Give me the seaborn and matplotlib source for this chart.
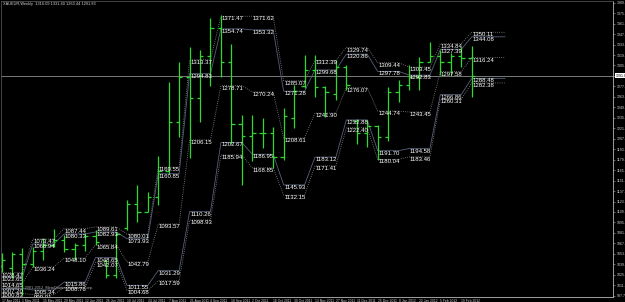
import numpy as np
import pandas as pd
import matplotlib
matplotlib.use("Agg")
import matplotlib.pyplot as plt
import seaborn as sns

# ---------------- data ----------------
week_dates = pd.date_range("2011-04-17", periods=46, freq="7D")
opens  = [1038, 1035, 1053, 1040, 1057, 1066, 1072, 1060, 1065, 1077, 1044, 1026, 1088, 1120, 1110, 1130,
          1165, 1230, 1290, 1262, 1318, 1356, 1311, 1228, 1212, 1215, 1215, 1183, 1236, 1278, 1300, 1277,
          1268, 1303, 1232, 1215, 1225, 1210, 1270, 1280, 1290, 1310, 1318, 1310, 1318, 1316.09]
highs  = [1055, 1056, 1062, 1063, 1075, 1087, 1079, 1068, 1082, 1086, 1046, 1083, 1126, 1146, 1137, 1185,
          1283, 1311, 1330, 1326, 1369, 1373, 1335, 1239, 1239, 1235, 1223, 1249, 1279, 1320, 1320, 1278,
          1313, 1306, 1234, 1233, 1226, 1277, 1286, 1306, 1317, 1337, 1326, 1322, 1330, 1331.40]
lows   = [1029, 1022, 999, 1036, 1045, 1063, 1056, 1046, 1058, 1066, 1022, 1022, 1086, 1096, 1109, 1119,
          1160, 1210, 1182, 1230, 1278, 1290, 1200, 1146, 1178, 1195, 1168, 1179, 1222, 1276, 1263, 1237,
          1259, 1273, 1200, 1196, 1179, 1205, 1257, 1273, 1273, 1310, 1293, 1293, 1304, 1263.44]
closes = [1046, 1053, 1040, 1057, 1066, 1072, 1060, 1065, 1077, 1070, 1026, 1080, 1120, 1110, 1130, 1165,
          1230, 1290, 1262, 1318, 1356, 1311, 1228, 1212, 1215, 1215, 1183, 1238, 1272, 1300, 1277, 1270,
          1303, 1280, 1215, 1225, 1210, 1270, 1280, 1290, 1310, 1318, 1310, 1318, 1316, 1291.83]

level_bars   = [0, 3, 6, 9, 12, 15, 18, 21, 24, 27, 30, 33, 36, 39, 42, 45]
upper_outer  = [1028.47, 1073.47, 1087.44, 1089.61, 1080.01, 1169.55, 1313.37, 1371.47, 1371.62, 1285.07,
                1312.39, 1329.74, 1309.44, 1303.45, 1334.84, 1350.11]
upper_inner  = [1022.65, 1066.94, 1080.33, 1082.93, 1073.93, 1160.85, 1294.83, 1354.74, 1353.32, 1271.28,
                1299.68, 1320.86, 1297.78, 1292.83, 1327.39, 1344.08]
middle_level = [1014.65, 1036.24, 1048.10, 1065.84, 1042.79, 1093.57, 1206.15, 1278.71, 1270.24, 1208.61,
                1241.90, 1276.07, 1244.74, 1243.45, 1297.58, 1316.24]
lower_inner  = [1007.20, 1005.34, 1015.86, 1048.65, 1011.55, 1031.29, 1110.26, 1202.67, 1186.95, 1145.93,
                1183.12, 1232.88, 1191.70, 1194.58, 1266.86, 1288.48]
lower_outer  = [1000.83, 999.01, 1008.76, 1042.07, 1004.68, 1017.59, 1098.93, 1185.94, 1168.85, 1132.15,
                1171.41, 1222.40, 1180.04, 1183.46, 1260.31, 1282.38]

current_price = 1291.83
title_text = "XAUEUR,Weekly  1316.09 1331.40 1263.44 1291.83"
copyright_text = "Copyright \u00a9 2001-2012, MetaQuotes Software Corp."
price_ticks = [997.70 + 14.0 * k for k in range(29)]
date_tick_bars = list(range(0, 46, 2))

# ---------------- style ----------------
sns.set_theme(style="dark", rc={"axes.facecolor": "black", "figure.facecolor": "black",
                                "axes.edgecolor": "#b0b0b0", "axes.grid": False})
plt.rcParams['font.family'] = ['Liberation Sans Narrow', 'Liberation Sans', 'DejaVu Sans']

fig = plt.figure(figsize=(6.25, 3.02), dpi=100)
ax = fig.add_axes([1/625, 1 - 296.5/302, 612/625, 295.5/302])
ax.set_facecolor("black")

x = np.arange(len(week_dates))
bar_color = "#2ed82e"
ax.vlines(x, lows, highs, color=bar_color, lw=0.9, zorder=3)
ax.hlines(opens, x - 0.32, x, color=bar_color, lw=0.9, zorder=3)
ax.hlines(closes, x, x + 0.32, color=bar_color, lw=0.9, zorder=3)

# level lines: hold 2 bars, then slope to next level
def level_path(vals):
    xs, ys = [], []
    for k, (b, v) in enumerate(zip(level_bars, vals)):
        xs += [b, b + 2 if k < len(vals) - 1 else b + 3.2]
        ys += [v, v]
    return pd.DataFrame({"bar": xs, "price": ys})

dot = (0, (1, 1.6))
styles = [
    (upper_outer, "#8e8e8e", dot),
    (upper_inner, "#56607a", "-"),
    (middle_level, "#8e8e8e", dot),
    (lower_inner, "#56607a", "-"),
    (lower_outer, "#8e8e8e", dot),
]
for vals, col, ls in styles:
    df = level_path(vals)
    sns.lineplot(data=df, x="bar", y="price", ax=ax, color=col, lw=0.6, linestyle=ls,
                 sort=False, estimator=None, zorder=2)
    for b, v in zip(level_bars, vals):
        ax.text(b + 0.05, v, f"{v:.2f}", color="white", fontsize=4.3, ha="left", va="top",
                zorder=4, clip_on=True)

# current price line
ax.axhline(current_price, color="#8c8c8c", lw=0.6, zorder=1)

ax.set_xlim(-0.048, 58.52)
ax.set_ylim(996.6, 1391.97)

# axes / ticks
ax.yaxis.tick_right()
ax.set_yticks(price_ticks)
ax.set_yticklabels([f"{t:.2f}" for t in price_ticks], fontsize=2.6, color="#d0d0d0")
ax.tick_params(axis="y", length=1.5, width=0.4, color="#b0b0b0", pad=1)
ax.set_xticks(date_tick_bars)
ax.set_xticklabels([f"{week_dates[i].day} {week_dates[i].strftime('%b %Y')}" for i in date_tick_bars],
                   fontsize=2.4, color="#d0d0d0", ha="left")
ax.tick_params(axis="x", length=1.5, width=0.4, color="#b0b0b0", pad=0.5)
ax.set_xlabel("")
ax.set_ylabel("")
for side in ["right", "bottom"]:
    ax.spines[side].set_color("#b8b8b8")
    ax.spines[side].set_linewidth(0.6)
for side in ["top", "left"]:
    ax.spines[side].set_color("#505050")
    ax.spines[side].set_linewidth(0.6)

ax.text(1.004, current_price, f"{current_price:.2f}", transform=ax.get_yaxis_transform(),
        fontsize=2.6, color="black", va="center", ha="left",
        bbox=dict(boxstyle="square,pad=0.15", fc="white", ec="none"), clip_on=False)

ax.text(0.004, 0.997, title_text, transform=ax.transAxes, fontsize=2.8, color="#d8d8d8",
        ha="left", va="top")
ax.text(0.004, 0.022, copyright_text, transform=ax.transAxes, fontsize=2.8, color="#b0b0b0",
        ha="left", va="bottom")

fig.savefig("out.png", dpi=100, facecolor="black")
